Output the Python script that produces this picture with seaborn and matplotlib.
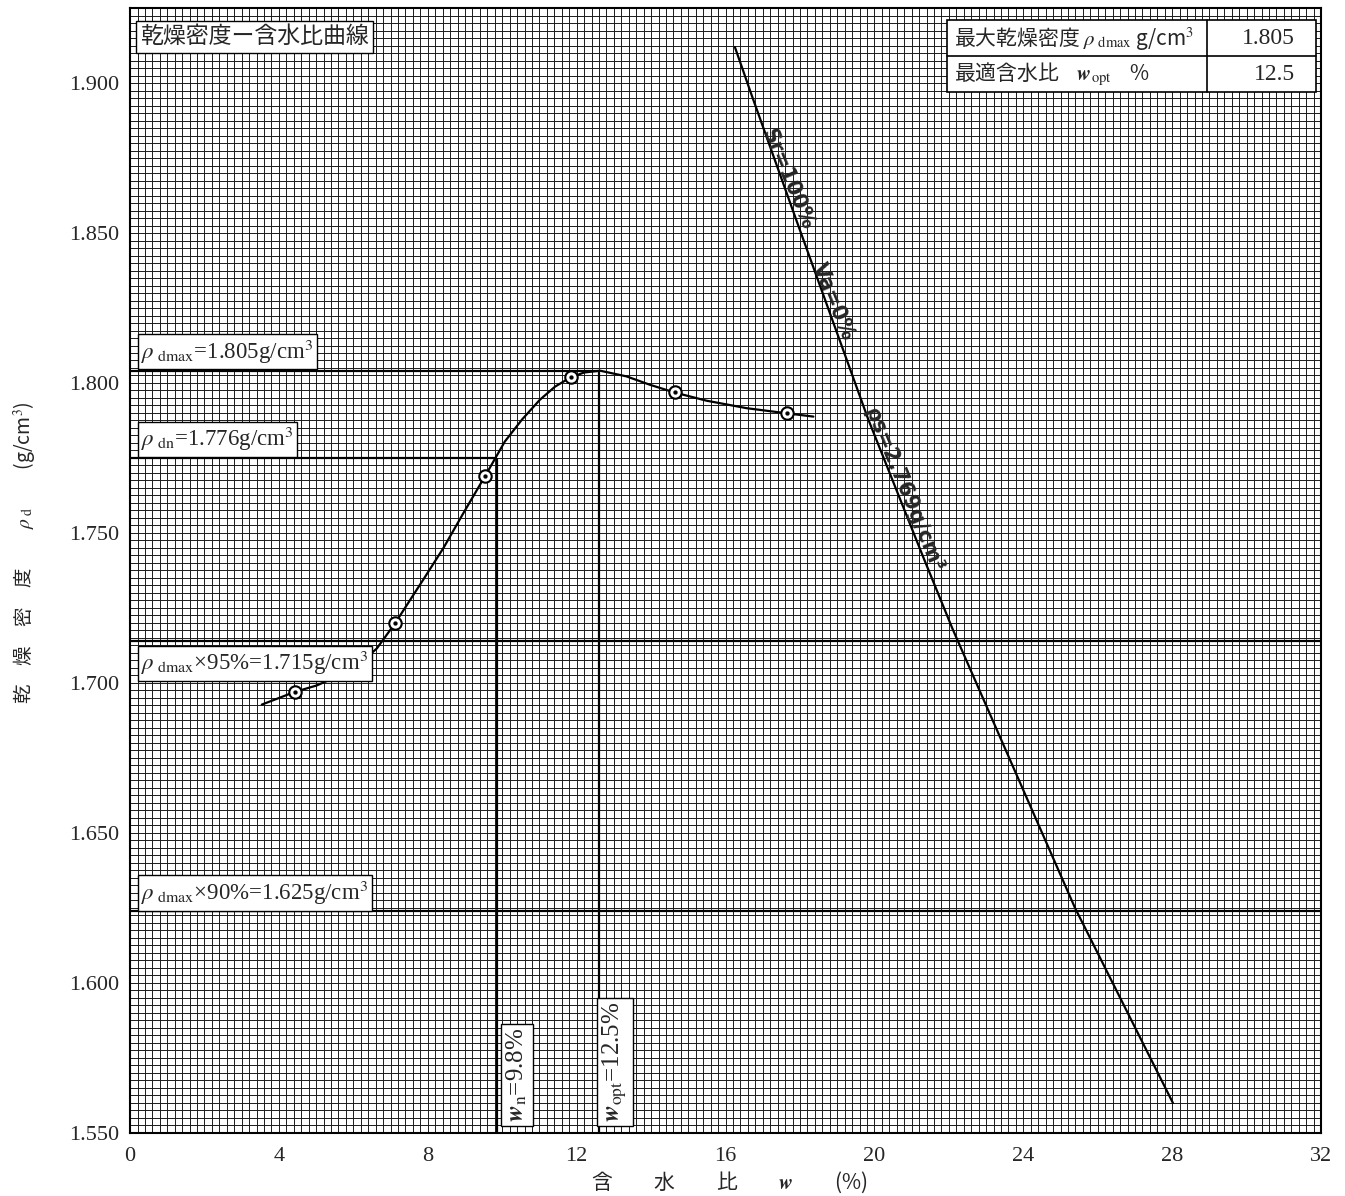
import numpy as np
import pandas as pd
import seaborn as sns
import matplotlib.pyplot as plt
from matplotlib.patches import Rectangle

# test points (w %, dry density g/cm3)
w_test = [4.42, 7.12, 9.54, 11.84, 14.64, 17.64]
rho_test = [1.697, 1.720, 1.769, 1.802, 1.797, 1.790]

# hand drawn compaction curve
w_curve = [3.54, 4.42, 5.02, 5.46, 5.91, 6.18, 6.63, 7.12, 7.88, 8.42, 8.95, 9.54, 10.07,
           10.53, 11.01, 11.42, 11.84, 12.20, 12.63, 13.34, 13.97, 14.64, 15.49, 16.57,
           17.64, 18.36]
rho_curve = [1.6928, 1.6970, 1.6992, 1.7016, 1.7045, 1.7066, 1.7115, 1.7199, 1.7345,
             1.7450, 1.7565, 1.7690, 1.7805, 1.7878, 1.7944, 1.7988, 1.8019, 1.8035,
             1.8041, 1.8022, 1.7994, 1.7968, 1.7941, 1.7916, 1.7899, 1.7888]

# zero air voids curve (Sr=100%)
w_zav = [16.25, 16.70, 17.91, 19.83, 21.31, 22.10, 25.39, 28.02]
rho_zav = [1.912, 1.896, 1.854, 1.788, 1.742, 1.718, 1.625, 1.560]

# reference lines
rho_dmax_line = 1.804
rho_dn_line = 1.775
rho_95_line = 1.714
rho_90_line = 1.624
w_opt_line = 12.6
w_n_line = 9.85

x_ticks = [0, 4, 8, 12, 16, 20, 24, 28, 32]
y_ticks = [1.550, 1.600, 1.650, 1.700, 1.750, 1.800, 1.850, 1.900]
y_tick_labels = ["1.550", "1.600", "1.650", "1.700", "1.750", "1.800", "1.850", "1.900"]

sns.set_style("white")
plt.rcParams["font.family"] = ["Liberation Serif", "Noto Sans CJK JP"]
plt.rcParams["mathtext.fontset"] = "stix"

fig = plt.figure(figsize=(13.45, 11.96), dpi=100)
ax = fig.add_axes([0.0967, 0.0527, 0.8855, 0.9406])

ax.set_xlim(0, 32)
ax.set_ylim(1.550, 1.925)

# graph paper grid
ax.set_xticks(x_ticks)
ax.set_yticks(y_ticks)
ax.set_xticks(np.arange(0, 32.01, 0.2), minor=True)
ax.set_yticks(np.arange(1.550, 1.9251, 0.0025), minor=True)
ax.grid(which="both", color="#1a1a1a", lw=0.7)
ax.set_axisbelow(True)
ax.tick_params(which="both", length=0)
ax.tick_params(axis="x", pad=10, labelsize=16)
ax.tick_params(axis="y", pad=8, labelsize=16)
ax.set_yticklabels(y_tick_labels)
for s in ax.spines.values():
    s.set_color("black")
    s.set_linewidth(1.5)

# reference lines
lk = dict(color="black", lw=1.6, zorder=3)
ax.hlines(rho_dmax_line, 0, w_opt_line, **lk)
ax.vlines(w_opt_line, 1.550, rho_dmax_line, **lk)
ax.hlines(rho_dn_line, 0, w_n_line, **lk)
ax.vlines(w_n_line, 1.550, rho_dn_line, **lk)
ax.axhline(rho_95_line, **lk)
ax.axhline(rho_90_line, **lk)

# curves
df_curve = pd.DataFrame({"w": w_curve, "rho": rho_curve})
sns.lineplot(data=df_curve, x="w", y="rho", sort=False, color="black", lw=1.6, ax=ax, zorder=4)
df_zav = pd.DataFrame({"w": w_zav, "rho": rho_zav})
sns.lineplot(data=df_zav, x="w", y="rho", sort=False, color="black", lw=1.6, ax=ax, zorder=4)

df_test = pd.DataFrame({"w": w_test, "rho": rho_test})
sns.scatterplot(data=df_test, x="w", y="rho", s=80, marker="o", facecolor="white",
                edgecolor="black", linewidth=1.5, ax=ax, zorder=5)
sns.scatterplot(data=df_test, x="w", y="rho", s=8, marker="o", color="black",
                edgecolor="black", ax=ax, zorder=6)

ax.set_xlabel("")
ax.set_ylabel("")

box = dict(boxstyle="square,pad=0.15", fc="white", ec="black", lw=1)

ax.text(0.27, 1.9154, "乾燥密度ー含水比曲線", fontsize=16.5, va="center", ha="left",
        family=["Noto Sans CJK JP"], bbox=dict(boxstyle="square,pad=0.2", fc="white",
                                               ec="black", lw=1), zorder=7)
ax.text(0.3, 1.8105, r"$\rho_{\rm\ dmax}$=1.805g/cm$^3$", fontsize=16.5, va="center",
        ha="left", bbox=box, zorder=7)
ax.text(0.3, 1.7812, r"$\rho_{\rm\ dn}$=1.776g/cm$^3$", fontsize=16.5, va="center",
        ha="left", bbox=box, zorder=7)
ax.text(0.3, 1.7066, r"$\rho_{\rm\ dmax}$×95%=1.715g/cm$^3$", fontsize=16.5, va="center",
        ha="left", bbox=box, zorder=7)
ax.text(0.3, 1.6300, r"$\rho_{\rm\ dmax}$×90%=1.625g/cm$^3$", fontsize=16.5, va="center",
        ha="left", bbox=box, zorder=7)

ax.text(10.40, 1.5535, r"$\mathbfit{w}_{\rm n}$=9.8%", fontsize=18, rotation=90,
        ha="center", va="bottom", bbox=box, zorder=7)
ax.text(13.03, 1.5535, r"$\mathbfit{w}_{\rm opt}$=12.5%", fontsize=18, rotation=90,
        ha="center", va="bottom", bbox=box, zorder=7)

# labels along the saturation line
sk = dict(fontsize=15, fontweight="bold", rotation=-67.5, rotation_mode="anchor",
          ha="center", va="center", family=["Liberation Sans Narrow", "DejaVu Sans"], zorder=7)
ax.text(17.68, 1.868, "Sr=100%", **sk)
ax.text(18.89, 1.827, "Va=0%", **sk)
ax.text(20.77, 1.7645, "ρs=2.769g/cm³", **sk)

# summary table, top right
tx0, tx1, tx2 = 0.686, 0.904, 0.9958
ty0, ty1, ty2 = 0.9253, 0.9573, 0.9893
ax.add_patch(Rectangle((tx0, ty0), tx2 - tx0, ty2 - ty0, transform=ax.transAxes,
                       fc="white", ec="black", lw=1.2, zorder=7))
ax.plot([tx1, tx1], [ty0, ty2], transform=ax.transAxes, color="black", lw=1.2, zorder=8)
ax.plot([tx0, tx2], [ty1, ty1], transform=ax.transAxes, color="black", lw=1.2, zorder=8)
jp = ["Noto Sans CJK JP"]
ax.text(tx0 + 0.006, (ty1 + ty2) / 2, r"最大乾燥密度 $\rho_{\rm\ dmax}$ g/cm$^3$", fontsize=15,
        family=jp, va="center", ha="left", transform=ax.transAxes, zorder=9)
ax.text(tx0 + 0.006, (ty0 + ty1) / 2, r"最適含水比    $\mathbfit{w}_{\rm opt}$    %", fontsize=15,
        family=jp, va="center", ha="left", transform=ax.transAxes, zorder=9)
ax.text(tx2 - 0.018, (ty1 + ty2) / 2, "1.805", fontsize=17, va="center", ha="right",
        transform=ax.transAxes, zorder=9)
ax.text(tx2 - 0.018, (ty0 + ty1) / 2, "12.5", fontsize=17, va="center", ha="right",
        transform=ax.transAxes, zorder=9)

# axis titles
ax.text(-0.088, 0.5156, r"乾　燥　密　度　　$\rho_{\rm\ d}$　　(g/cm$^3$)", fontsize=14,
        family=jp, rotation=90, ha="center", va="center", transform=ax.transAxes)
ax.text(0.503, -0.044, r"含　　水　　比　　$\mathbfit{w}$　　(%)", fontsize=15,
        family=jp, ha="center", va="center", transform=ax.transAxes)

fig.savefig("out.png", dpi=100)
